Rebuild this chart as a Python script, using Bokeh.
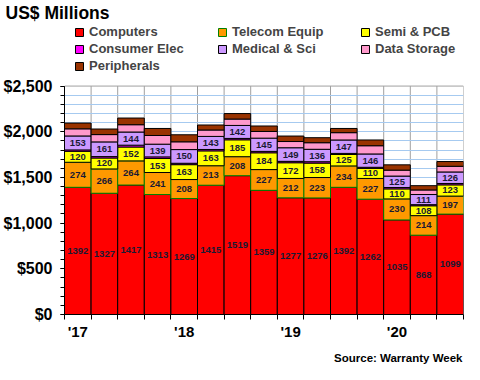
import numpy as np
from bokeh.plotting import figure
from bokeh.models import (ColumnDataSource, FixedTicker, Legend, LegendItem, Title,
                          Range1d, NumeralTickFormatter)
from bokeh.core.properties import value
from bokeh.embed import file_html
from bokeh.resources import INLINE

quarters = ["2017Q1", "2017Q2", "2017Q3", "2017Q4", "2018Q1", "2018Q2", "2018Q3", "2018Q4",
            "2019Q1", "2019Q2", "2019Q3", "2019Q4", "2020Q1", "2020Q2", "2020Q3"]
year_labels = {0: "'17", 4: "'18", 8: "'19", 12: "'20"}

computers = [1392, 1327, 1417, 1313, 1269, 1415, 1519, 1359, 1277, 1276, 1392, 1262, 1035, 868, 1099]
telecom = [274, 266, 264, 241, 208, 213, 208, 227, 212, 223, 234, 227, 230, 214, 197]
semi = [120, 120, 152, 153, 163, 163, 185, 184, 172, 158, 125, 110, 110, 108, 123]
consumer = [15, 15, 20, 18, 15, 15, 15, 15, 15, 15, 12, 12, 15, 12, 15]
medical = [153, 161, 144, 139, 150, 143, 142, 145, 149, 136, 147, 146, 125, 111, 126]
storage = [78, 80, 80, 95, 85, 70, 70, 73, 68, 72, 80, 90, 65, 50, 62]
peripherals = [63, 61, 73, 77, 77, 55, 60, 60, 60, 55, 46, 63, 58, 47, 52]

series_names = ["Computers", "Telecom Equip", "Semi & PCB", "Consumer Elec",
                "Medical & Sci", "Data Storage", "Peripherals"]
series_vals = [computers, telecom, semi, consumer, medical, storage, peripherals]
fill_colors = ["#FF0000", "#FF9900", "#FFFF00", "#FF00FF", "#CC99FF", "#FF99CC", "#993300"]
line_colors = ["#000000", "#008000", "#000000", "#000000", "#000000", "#000000", "#000000"]
labelled = [True, True, True, False, True, False, False]

FONT = "Liberation Sans"
Y_MAX = 2500
W, H = 464, 372
B_LEFT, B_RIGHT, B_TOP, B_BOTTOM = 58, 1, 20, 58
PLOT_H = 230  # pixel height of the 0..2500 band
frame_h = H - B_TOP - B_BOTTOM
y_top = Y_MAX * frame_h / PLOT_H  # extra room above the bars for the legend
LEG_ROW = 17
leg_h = 3 * LEG_ROW

n = len(quarters)
xs = list(range(n))
bounds_x = [i - 0.5 for i in range(n + 1)]

data = {"x": xs}
keys = []
for i, vals in enumerate(series_vals):
    k = "s%d" % i
    keys.append(k)
    data[k] = vals
src = ColumnDataSource(data)

p = figure(width=W, height=H, output_backend="svg", toolbar_location=None,
           x_range=Range1d(-0.5, n - 0.5), y_range=Range1d(0, y_top),
           min_border_left=B_LEFT, min_border_right=B_RIGHT,
           min_border_top=B_TOP, min_border_bottom=B_BOTTOM)
p.outline_line_color = None
p.background_fill_color = "white"

# vertical grid lines (only within 0..2500) and top border
p.segment(x0=bounds_x, y0=[0] * len(bounds_x), x1=bounds_x, y1=[Y_MAX] * len(bounds_x),
          line_color="#A0A0A0", line_width=1, level="underlay")
p.segment(x0=[-0.5], y0=[Y_MAX], x1=[n - 0.5], y1=[Y_MAX],
          line_color="#A0A0A0", line_width=1, level="underlay")

renderers = p.vbar_stack(keys, x="x", width=1.0, source=src,
                         fill_color=fill_colors, line_color=line_colors, line_width=1)

# segment labels
lx, ly, lt = [], [], []
bottoms = np.zeros(n)
for vals, lab in zip(series_vals, labelled):
    v = np.array(vals, dtype=float)
    if lab:
        for j in range(n):
            lx.append(xs[j])
            ly.append(bottoms[j] + v[j] / 2)
            lt.append(str(vals[j]))
    bottoms += v
lsrc = ColumnDataSource(dict(x=lx, y=ly, t=lt))
p.text(x="x", y="y", text="t", source=lsrc, text_font=value(FONT), text_font_style="bold",
       text_font_size="9.5px", text_align="center", text_baseline="middle", text_color="#1a1a33")

# axes
p.yaxis.ticker = FixedTicker(ticks=list(range(0, Y_MAX + 1, 500)),
                             minor_ticks=list(range(0, Y_MAX + 1, 100)))
p.yaxis.bounds = (0, Y_MAX)
p.yaxis.formatter = NumeralTickFormatter(format="$0,0")
p.yaxis.major_label_text_font = FONT
p.yaxis.major_label_text_font_style = "bold"
p.yaxis.major_label_text_font_size = "16px"
p.yaxis.major_label_text_color = "black"
p.yaxis.major_tick_out = 4
p.yaxis.major_tick_in = 0
p.yaxis.minor_tick_out = 4
p.yaxis.minor_tick_in = 0
p.yaxis.major_label_standoff = 8
p.yaxis.axis_line_color = "black"

p.xaxis.ticker = FixedTicker(ticks=list(year_labels.keys()), minor_ticks=bounds_x)
p.xaxis.major_label_overrides = year_labels
p.xaxis.major_label_text_font = FONT
p.xaxis.major_label_text_font_style = "bold"
p.xaxis.major_label_text_font_size = "15px"
p.xaxis.major_label_text_color = "black"
p.xaxis.major_tick_out = 0
p.xaxis.major_tick_in = 0
p.xaxis.minor_tick_out = 5
p.xaxis.minor_tick_in = 0
p.xaxis.major_label_standoff = 3
p.xaxis.axis_line_color = "black"

p.xgrid.grid_line_color = None
p.ygrid.ticker = FixedTicker(ticks=list(range(100, Y_MAX, 100)))
p.ygrid.grid_line_color = "#A6CAF0"

legend = Legend(items=[LegendItem(label=nm, renderers=[r]) for nm, r in zip(series_names, renderers)],
                orientation="horizontal", ncols=3, location=(10, frame_h - 3 - leg_h),
                label_text_font=FONT, label_text_font_style="bold", label_text_font_size="13px",
                glyph_width=10, glyph_height=10, label_standoff=5, label_width=128,
                label_height=LEG_ROW, spacing=0, padding=0, margin=0,
                border_line_color=None, background_fill_alpha=0)
p.add_layout(legend, "center")

p.title.text = "US$ Millions"
p.title.text_font = FONT
p.title.text_font_style = "bold"
p.title.text_font_size = "17.5px"
p.title.text_color = "black"
p.title.align = "left"
p.title.offset = -59
p.title.standoff = 0

src_title = Title(text="Source: Warranty Week", align="right", text_font=FONT,
                  text_font_style="bold", text_font_size="11.5px", text_color="black",
                  offset=1, standoff=15)
p.add_layout(src_title, "below")

open("out.html", "w").write(file_html(p, INLINE))
